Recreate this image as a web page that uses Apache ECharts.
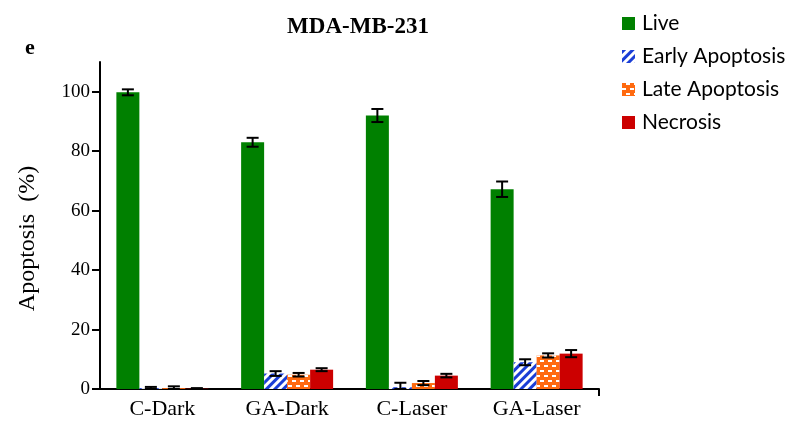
<!DOCTYPE html>
<html>
<head>
<meta charset="utf-8">
<script src="https://cdn.jsdelivr.net/npm/echarts@6/dist/echarts.min.js"></script>
<style>
  html, body { margin: 0; padding: 0; background: #fff; }
  #chart { width: 799px; height: 429px; }
</style>
</head>
<body>
<div id="chart"></div>
<script>
// Cell death profile of MDA-MB-231 cells under four treatments
const categories = ['C-Dark', 'GA-Dark', 'C-Laser', 'GA-Laser'];
const yTicks = [0, 20, 40, 60, 80, 100];

const liveValues = [99.8, 83.0, 92.0, 67.2];
const liveErrors = [1.0, 1.5, 2.2, 2.6];
const earlyValues = [0.3, 5.2, 0.6, 9.0];
const earlyErrors = [0.4, 0.8, 1.5, 1.0];
const lateValues = [0.3, 4.8, 2.0, 11.3];
const lateErrors = [0.6, 0.6, 0.7, 0.7];
const necrosisValues = [0.1, 6.5, 4.5, 11.9];
const necrosisErrors = [0.2, 0.5, 0.6, 1.2];

const seriesNames = ['Live', 'Early Apoptosis', 'Late Apoptosis', 'Necrosis'];
const seriesValues = [liveValues, earlyValues, lateValues, necrosisValues];
const seriesErrors = [liveErrors, earlyErrors, lateErrors, necrosisErrors];

const BAR_W = 23;
const serif = 'Liberation Serif';

const styles = [
  { color: '#008000' },
  {
    color: '#ffffff',
    decal: {
      symbol: 'rect', color: '#1a3ed6', rotation: -Math.PI / 4,
      dashArrayX: [1, 0], dashArrayY: [3, 3], symbolSize: 1
    }
  },
  {
    color: '#ff6a10',
    decal: {
      symbol: 'rect', color: '#ffffff',
      dashArrayX: [[4, 4], [0, 4, 4, 0]], dashArrayY: [2, 3], symbolSize: 1
    }
  },
  { color: '#cc0000' }
];

const barSeries = seriesNames.map((name, s) => ({
  name: name,
  type: 'bar',
  barWidth: BAR_W,
  barGap: '0%',
  itemStyle: styles[s],
  data: seriesValues[s],
  z: 2
}));

// Error bars, drawn over the matching bar within each category
const errorData = [];
seriesValues.forEach((vals, s) => {
  vals.forEach((v, i) => {
    errorData.push([i, v - seriesErrors[s][i], v + seriesErrors[s][i], s]);
  });
});

const errorSeries = {
  type: 'custom',
  name: 'error',
  data: errorData,
  z: 5,
  renderItem: function (params, api) {
    const cat = api.value(0);
    const s = api.value(3);
    const lo = api.coord([cat, Math.max(0, api.value(1))]);
    const hi = api.coord([cat, api.value(2)]);
    const x = lo[0] + (s - 1.5) * BAR_W;
    const half = 6;
    const st = { stroke: '#000', lineWidth: 2 };
    return {
      type: 'group',
      children: [
        { type: 'line', shape: { x1: x, y1: lo[1], x2: x, y2: hi[1] }, style: st },
        { type: 'line', shape: { x1: x - half, y1: hi[1], x2: x + half, y2: hi[1] }, style: st },
        { type: 'line', shape: { x1: x - half, y1: lo[1], x2: x + half, y2: lo[1] }, style: st }
      ]
    };
  }
};

const chart = echarts.init(document.getElementById('chart'), null, { renderer: 'canvas' });
chart.setOption({
  animation: false,
  backgroundColor: '#ffffff',
  title: [
    {
      text: 'MDA-MB-231', left: 353, top: 11, textAlign: 'center',
      textStyle: { fontFamily: serif, fontWeight: 'bold', fontSize: 23, color: '#000' }
    },
    {
      text: 'e', left: 20, top: 32,
      textStyle: { fontFamily: serif, fontWeight: 'bold', fontSize: 22, color: '#000' }
    }
  ],
  legend: {
    data: seriesNames,
    orient: 'vertical',
    left: 617,
    top: 8,
    itemWidth: 13,
    itemHeight: 13,
    itemGap: 12,
    icon: 'rect',
    textStyle: { fontFamily: 'Lato', fontSize: 21, color: '#000', padding: [0, 0, 0, 2] }
  },
  grid: { left: 100, right: 200, top: 62, bottom: 40, containLabel: false },
  xAxis: [
    {
      type: 'category',
      data: categories,
      axisLine: { lineStyle: { color: '#000', width: 2 } },
      axisTick: { alignWithLabel: true, length: 7, lineStyle: { color: '#000', width: 2 } },
      axisLabel: { fontFamily: serif, fontSize: 22, color: '#000', margin: 9 }
    },
    {
      // closing tick at the far end of the category axis
      type: 'value',
      min: 0,
      max: categories.length,
      position: 'bottom',
      axisLine: { show: false },
      axisLabel: { show: false },
      splitLine: { show: false },
      axisTick: {
        show: true, length: 7, customValues: [categories.length],
        lineStyle: { color: '#000', width: 2 }
      }
    }
  ],
  yAxis: {
    type: 'value',
    min: 0,
    max: 110,
    interval: 10,
    name: 'Apoptosis  (%)',
    nameLocation: 'middle',
    nameGap: 60,
    nameTextStyle: { fontFamily: serif, fontSize: 24, color: '#000', padding: [0, 26, 0, 0] },
    axisLine: { show: true, lineStyle: { color: '#000', width: 2 } },
    axisTick: { show: true, length: 8, customValues: yTicks, lineStyle: { color: '#000', width: 2 } },
    axisLabel: { fontFamily: serif, fontSize: 19, color: '#000', margin: 10, customValues: yTicks },
    splitLine: { show: false }
  },
  series: barSeries.concat([errorSeries])
});
</script>
</body>
</html>
